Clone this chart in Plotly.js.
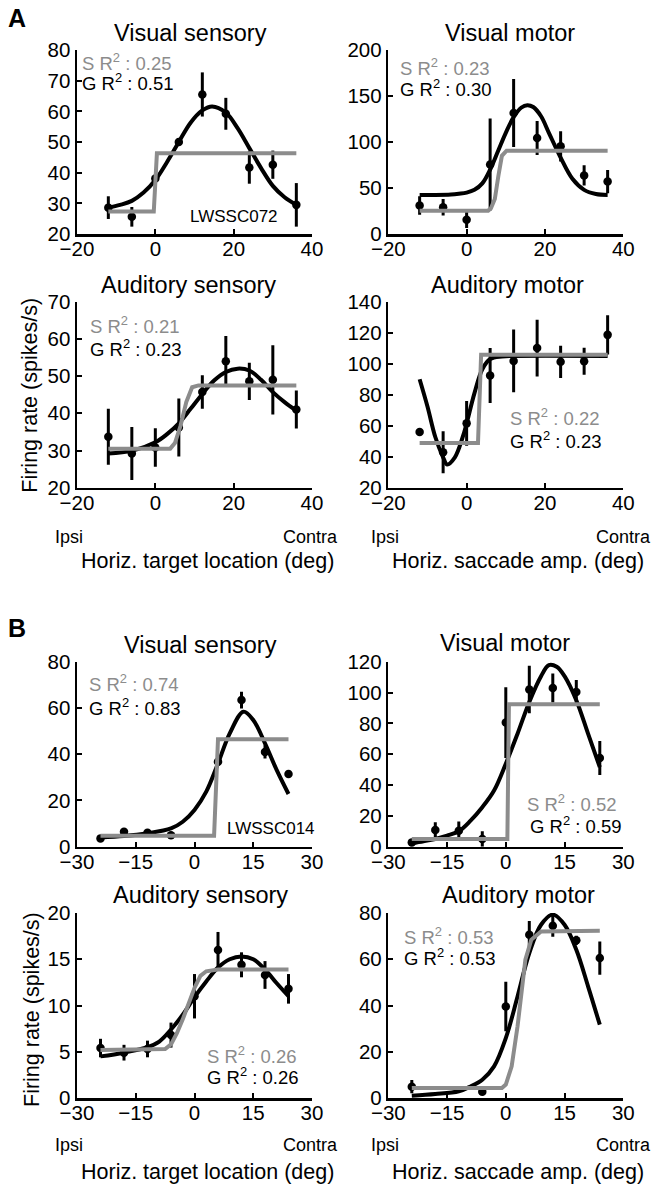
<!DOCTYPE html>
<html>
<head>
<meta charset="utf-8">
<script src="https://cdn.plot.ly/plotly-3.0.1.min.js"></script>
<style>
  html, body { margin: 0; padding: 0; background: #fff; }
  #chart { width: 658px; height: 1189px; }
</style>
</head>
<body>
<div id="chart"></div>
<script>
// target locations, one set per panel group
const aX = [-12, -6, 0, 6, 12, 18, 24, 30, 36]
const bX = [-24, -18, -12, -6, 0, 6, 12, 18, 24]

// A - visual sensory
const avsY = [28.6, 25.6, 38.1, 50, 65.5, 59.2, 41.7, 42.6, 29.5]
const avsErr = [3.7, 3.2, 1.0, 1.0, 7.2, 5.2, 5.3, 4.6, 7.1]
const avsFitX = [-12, -9, -6, -3, 0, 3, 6, 9, 12, 14.5, 18, 21, 24, 27, 30, 33, 36]
const avsFitY = [28.6, 29.5, 30.8, 33.5, 37.6, 43.5, 50, 56.3, 60.3, 61.6, 59.6, 54.5, 48, 41.5, 35.7, 32, 29.5]
const avsSigX = [-12, -0.4, 0.4, 36]
const avsSigY = [27.3, 27.3, 46.3, 46.3]

// A - visual motor
const avmY = [30.9, 29.1, 15.6, 75.6, 131.6, 104.3, 95.3, 63.6, 57]
const avmErr = [10, 9, 9, 50, 37, 18.5, 16.5, 11, 12.7]
const avmFitX = [-12, -8, -4, -2, 0, 2, 4, 6, 8, 10, 12, 14, 15.5, 17, 19, 21, 24, 27, 30, 33, 36]
const avmFitY = [42.5, 42.5, 43, 43.8, 45, 48, 55, 70, 90, 110, 127, 137.5, 140, 138, 128, 110, 83, 60, 48, 43.5, 42.5]
const avmSigX = [-12, 5.5, 6.2, 7.2, 8.1, 9, 10.2, 36]
const avmSigY = [25.4, 25.4, 28, 38, 63, 85, 90.5, 90.5]

// A - auditory sensory
const aasY = [33.7, 29.2, 30.8, 36.2, 45.7, 54, 48.6, 49, 41]
const aasErr = [7.5, 7.1, 5.2, 7.8, 4.5, 6.8, 5, 9.3, 5.1]
const aasFitX = [-12, -6, 0, 3, 6, 9, 12, 15, 18, 21, 24, 27, 30, 33, 36]
const aasFitY = [29.2, 29.9, 32.2, 34.4, 37.3, 41.2, 45.2, 48.8, 51.1, 52, 51.5, 49, 45.7, 43, 40.7]
const aasSigX = [-12, 3.8, 5, 6.4, 7.9, 9.4, 11, 36]
const aasSigY = [30.5, 30.5, 32, 36.5, 43, 47, 47.5, 47.5]

// A - auditory motor
const aamY = [56, 42.9, 61.5, 92.4, 101.8, 110.1, 101.2, 101.6, 118.6]
const aamErr = [0, 13.5, 14.5, 17.7, 20.3, 18.3, 10.4, 8.7, 12.6]
const aamFitX = [-12, -10, -8, -6, -5, -3, -1, 0, 2, 4, 6, 9, 12, 36]
const aamFitY = [90, 72.4, 52.7, 39.6, 35, 39.6, 52.7, 61.5, 81, 96.4, 103, 104.7, 105, 105]
const aamSigX = [-12, 2.9, 3.7, 36]
const aamSigY = [48.8, 48.8, 105.8, 105.8]

// B - visual sensory
const bvsY = [3.6, 6.5, 6.0, 5.0, null, 36.7, 63.4, 41, 31.4]
const bvsErr = [0.8, 0.8, 0.8, 0.8, 0, 1.5, 3.6, 2.9, 1.5]
const bvsFitX = [-24, -18, -12, -6, -3, 0, 3, 6, 9, 12.5, 15, 18, 21, 24]
const bvsFitY = [4.0, 4.6, 5.8, 7.9, 10.8, 15.9, 23.8, 36, 49, 58.4, 54.8, 44.7, 33.1, 22.8]
const bvsSigX = [-24, 5.0, 6.0, 24]
const bvsSigY = [4.75, 4.75, 46.5, 46.5]

// B - visual motor
const bvmY = [2.8, 10.8, 10.4, 5, 80.5, 102, 103, 100.4, 57.5]
const bvmErr = [1, 5, 6, 5, 23, 15.4, 9.4, 7.8, 11]
const bvmFitX = [-24, -21, -18, -15, -12, -9, -6, -3, 0, 3, 6, 9, 11, 13, 15, 18, 21, 24]
const bvmFitY = [2.2, 3.5, 5, 7.2, 10, 16.9, 25.6, 36.4, 53.8, 73.3, 93.9, 110.6, 117.8, 116.7, 110.6, 95, 73.3, 51.6]
const bvmSigX = [-24, 0.4, 0.8, 24]
const bvmSigY = [5, 5, 92.4, 92.4]

// B - auditory sensory
const basY = [5.4, 4.9, 5.3, 6.8, 11, 16, 14.4, 13.3, 11.8]
const basErr = [1, 0.85, 0.9, 1.35, 2.4, 1.95, 1.35, 1.5, 1.6]
const basFitX = [-24, -18, -12, -9, -6, -3, 0, 3, 6, 9, 12, 15, 18, 21, 24]
const basFitY = [4.5, 4.9, 5.5, 6.1, 7.4, 9, 10.9, 12.6, 14.1, 15, 15.3, 15, 13.9, 12.4, 11]
const basSigX = [-24, -9, -7.5, -6, -4.5, -3, -1.5, 0, 1.5, 3, 6, 24]
const basSigY = [5.2, 5.2, 5.3, 5.8, 7, 8.5, 10.3, 11.9, 13.2, 13.7, 13.9, 13.9]

// B - auditory motor
const bamY = [4.9, null, null, 2.7, 39.6, 70.6, 74.5, 68.2, 60.5]
const bamErr = [2.9, 0, 0, 1, 10.7, 5.9, 4.8, 2, 7.2]
const bamFitX = [-24, -18, -12, -9, -6, -3, 0, 3, 6, 9, 12, 15, 18, 21, 24]
const bamFitY = [1, 1.7, 2.9, 5, 7.9, 13.7, 25.9, 43.9, 62.7, 74.9, 79.3, 74.9, 64.1, 48.3, 31.7]
const bamSigX = [-24, -1, 0, 1.5, 3, 4, 5, 6.5, 9, 24]
const bamSigY = [4.3, 4.3, 5.8, 13.7, 31, 46.8, 59.8, 68.4, 72, 72.3]

const titles = ['Visual sensory', 'Visual motor', 'Auditory sensory', 'Auditory motor',
  'Visual sensory', 'Visual motor', 'Auditory sensory', 'Auditory motor']
const sR2 = ['0.25', '0.23', '0.21', '0.22', '0.74', '0.52', '0.26', '0.53']
const gR2 = ['0.51', '0.30', '0.23', '0.23', '0.83', '0.59', '0.26', '0.53']
const yRanges = [[20, 80], [0, 200], [20, 70], [20, 140], [0, 80], [0, 120], [0, 20], [0, 80]]
const yDticks = [10, 50, 10, 20, 20, 20, 5, 20]

const panels = [
  { x: aX, y: avsY, err: avsErr, fx: avsFitX, fy: avsFitY, sx: avsSigX, sy: avsSigY },
  { x: aX, y: avmY, err: avmErr, fx: avmFitX, fy: avmFitY, sx: avmSigX, sy: avmSigY },
  { x: aX, y: aasY, err: aasErr, fx: aasFitX, fy: aasFitY, sx: aasSigX, sy: aasSigY },
  { x: aX, y: aamY, err: aamErr, fx: aamFitX, fy: aamFitY, sx: aamSigX, sy: aamSigY },
  { x: bX, y: bvsY, err: bvsErr, fx: bvsFitX, fy: bvsFitY, sx: bvsSigX, sy: bvsSigY },
  { x: bX, y: bvmY, err: bvmErr, fx: bvmFitX, fy: bvmFitY, sx: bvmSigX, sy: bvmSigY },
  { x: bX, y: basY, err: basErr, fx: basFitX, fy: basFitY, sx: basSigX, sy: basSigY },
  { x: bX, y: bamY, err: bamErr, fx: bamFitX, fy: bamFitY, sx: bamSigX, sy: bamSigY },
]

const W = 658, H = 1189
const px = v => v / W
const py = v => 1 - v / H
const FONT = 'Liberation Sans, Arial, sans-serif'
const GRAY = '#8c8c8c'

// pixel boxes of the plot areas
const cols = [[77, 312], [388.3, 623.3]]
const rows = [[50, 234], [301.7, 487.7], [661.7, 846.7], [913, 1098]]

const titlePos = [[190, 33], [510, 33], [188, 285], [507.5, 285], [200, 645], [505, 643], [200.8, 895], [518, 895]]
const sPos = [[80, 62], [398, 66.7], [88, 325], [508, 416.7], [87, 683], [525, 803], [205, 1055], [402, 936]]
const gPos = [[80, 82], [398, 88.3], [88, 348.3], [508, 440], [87, 706.7], [528, 825], [205, 1075.5], [402, 957]]

const data = []
const layout = {
  width: W,
  height: H,
  margin: { l: 0, r: 0, t: 0, b: 0 },
  paper_bgcolor: '#fff',
  plot_bgcolor: 'rgba(0,0,0,0)',
  showlegend: false,
  font: { family: FONT, color: '#000', size: 20 },
  annotations: [],
}

panels.forEach((p, i) => {
  const n = i === 0 ? '' : String(i + 1)
  const xa = 'x' + n, ya = 'y' + n
  const col = cols[i % 2], row = rows[Math.floor(i / 2)]
  const isB = i >= 4

  data.push({
    x: p.x, y: p.y, xaxis: xa, yaxis: ya,
    type: 'scatter', mode: 'markers',
    marker: { color: '#000', size: 8.5 },
    error_y: { type: 'data', array: p.err, visible: true, color: '#000', thickness: 3, width: 0 },
    cliponaxis: false,
  })
  data.push({
    x: p.fx, y: p.fy, xaxis: xa, yaxis: ya,
    type: 'scatter', mode: 'lines',
    line: { color: '#000', width: 4, shape: 'spline', smoothing: 1 },
  })
  data.push({
    x: p.sx, y: p.sy, xaxis: xa, yaxis: ya,
    type: 'scatter', mode: 'lines',
    line: { color: GRAY, width: 4, shape: 'linear' },
  })

  const axisBase = {
    showline: true, linecolor: '#000', linewidth: 2.5,
    ticks: 'inside', ticklen: 5, tickwidth: 2, tickcolor: '#000',
    showgrid: false, zeroline: false, mirror: false,
    tickfont: { family: FONT, size: 20.5, color: '#000' },
    fixedrange: true,
  }
  layout['xaxis' + n] = {
    ...axisBase,
    anchor: ya,
    domain: [px(col[0]), px(col[1])],
    range: isB ? [-30, 30] : [-20, 40],
    dtick: isB ? 15 : 20,
    tick0: 0,
    ticklabelstandoff: -5,
  }
  layout['yaxis' + n] = {
    ...axisBase,
    anchor: xa,
    domain: [py(row[1]), py(row[0])],
    range: yRanges[i],
    dtick: yDticks[i],
    tick0: 0,
  }

  layout.annotations.push({
    xref: 'paper', yref: 'paper', x: px(titlePos[i][0]), y: py(titlePos[i][1]),
    text: titles[i], showarrow: false, xanchor: 'center', yanchor: 'middle',
    font: { family: FONT, size: 23.5, color: '#000' },
  })
  layout.annotations.push({
    xref: 'paper', yref: 'paper', x: px(sPos[i][0]), y: py(sPos[i][1]),
    text: 'S R<sup>2</sup> : ' + sR2[i], showarrow: false, xanchor: 'left', yanchor: 'middle',
    font: { family: FONT, size: 18.5, color: GRAY },
  })
  layout.annotations.push({
    xref: 'paper', yref: 'paper', x: px(gPos[i][0]), y: py(gPos[i][1]),
    text: 'G R<sup>2</sup> : ' + gR2[i], showarrow: false, xanchor: 'left', yanchor: 'middle',
    font: { family: FONT, size: 18.5, color: '#000' },
  })
})

// free text: panel letters, cell ids, direction labels, axis titles
const addText = (text, x, y, opts = {}) => {
  layout.annotations.push({
    xref: 'paper', yref: 'paper', x: px(x), y: py(y), text, showarrow: false,
    xanchor: opts.xanchor || 'left', yanchor: 'middle', textangle: opts.angle || 0,
    font: { family: FONT, size: opts.size || 18, color: '#000' },
  })
}

addText('<b>A</b>', 16.5, 18, { xanchor: 'center', size: 25 })
addText('<b>B</b>', 16.5, 628, { xanchor: 'center', size: 25 })
addText('LWSSC072', 188, 216.7, { size: 17 })
addText('LWSSC014', 225, 828.3, { size: 17 })

const dirRows = [536.5, 1145]
dirRows.forEach(y => {
  addText('Ipsi', 53, y)
  addText('Contra', 281, y)
  addText('Ipsi', 369, y)
  addText('Contra', 594, y)
})
const xlabRows = [561, 1172]
xlabRows.forEach(y => {
  addText('Horiz. target location (deg)', 79, y, { size: 21.5 })
  addText('Horiz. saccade amp. (deg)', 390, y, { size: 21.5 })
})
addText('Firing rate (spikes/s)', 30, 395.7, { xanchor: 'center', angle: -90, size: 21.5 })
addText('Firing rate (spikes/s)', 32, 1010, { xanchor: 'center', angle: -90, size: 21.5 })

Plotly.newPlot('chart', data, layout, { displayModeBar: false, staticPlot: true })
</script>
</body>
</html>
